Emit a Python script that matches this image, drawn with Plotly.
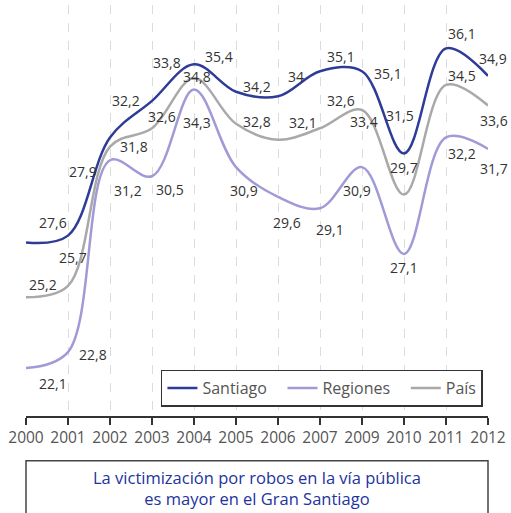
import plotly.graph_objects as go

years = ["2000", "2001", "2002", "2003", "2004", "2005", "2006", "2007", "2009", "2010", "2011", "2012"]
santiago = [27.6, 27.9, 32.2, 33.8, 35.4, 34.2, 34.0, 35.1, 35.1, 31.5, 36.1, 34.9]
regiones = [22.1, 22.8, 31.2, 30.5, 34.3, 30.9, 29.6, 29.1, 30.9, 27.1, 32.2, 31.7]
pais = [25.2, 25.7, 31.8, 32.6, 34.8, 32.8, 32.1, 32.6, 33.4, 29.7, 34.5, 33.6]

# label offsets (pixels, dx right, dy down) for each value label
off_santiago = [(27, -20), (15, -64), (16, -37), (15, -38), (25, -8), (21, -5), (18, -20), (21, -15), (26, 2), (-4, -38), (16, -15), (5, -17)]
off_pais = [(17, -13), (5, -28), (24, 0), (10, -12), (3, -2), (21, -2), (25, -17), (21, -28), (2, 11), (0, -27), (16, -9), (6, 15)]
off_regiones = [(27, 15), (25, 2), (18, 30), (18, 13), (3, 33), (8, 23), (9, 26), (10, 21), (-5, 23), (0, 14), (16, 16), (6, 20)]

C_SANT = "#2e3c98"
C_REG = "#a09bd6"
C_PAIS = "#a9a9a9"

xs = list(range(len(years)))
PAD = "\u2002\u2009"  # spacing after legend entries

fig = go.Figure()
fig.add_trace(go.Scatter(x=xs, y=santiago, name="Santiago" + PAD, mode="lines",
                         line=dict(color=C_SANT, width=2.5, shape="spline", smoothing=1.0), legendrank=1))
fig.add_trace(go.Scatter(x=xs, y=regiones, name="Regiones" + PAD, mode="lines",
                         line=dict(color=C_REG, width=2.5, shape="spline", smoothing=1.0), legendrank=2))
fig.add_trace(go.Scatter(x=xs, y=pais, name="País", mode="lines",
                         line=dict(color=C_PAIS, width=2.5, shape="spline", smoothing=1.0), legendrank=3))


def fmt(v):
    if abs(v - round(v)) < 1e-9:
        return str(int(round(v)))
    return f"{v:.1f}".replace(".", ",")


annotations = []
for vals, offs in ((santiago, off_santiago), (pais, off_pais), (regiones, off_regiones)):
    for i, (v, (dx, dy)) in enumerate(zip(vals, offs)):
        annotations.append(dict(x=i, y=v, xref="x", yref="y", text=fmt(v), showarrow=False,
                                xshift=dx, yshift=-dy, font=dict(size=14, color="#333333")))

annotations.append(dict(x=0.5, y=-0.174, xref="paper", yref="paper", showarrow=False,
                        text="La victimización por robos en la vía pública<br>es mayor en el Gran Santiago",
                        xanchor="center", yanchor="middle", align="center",
                        font=dict(size=16.5, color="#2233a0")))

fig.update_layout(
    width=511, height=513, autosize=False,
    margin=dict(l=26, r=19, t=5, b=97),
    paper_bgcolor="white", plot_bgcolor="white",
    font=dict(family="Open Sans", color="#555555"),
    showlegend=True,
    legend=dict(orientation="h", xanchor="right", x=0.989, yanchor="bottom", y=0.0226,
                bgcolor="white", bordercolor="#333333", borderwidth=1.5,
                font=dict(size=16, color="#555555"), itemwidth=30),
    annotations=annotations,
    shapes=[dict(type="rect", xref="paper", yref="paper", x0=0, x1=1, y0=-0.3, y1=-0.1088,
                 line=dict(color="#444444", width=1.5), fillcolor="rgba(0,0,0,0)")],
)
fig.update_xaxes(range=[0, 11], tickmode="array", tickvals=xs, ticktext=years,
                 showgrid=True, gridcolor="#dcdcdc", griddash="dash", gridwidth=1,
                 showline=True, linecolor="#333333", linewidth=1.5,
                 ticks="outside", ticklen=7, tickcolor="#333333", tickwidth=1.5,
                 tickfont=dict(size=15.5, color="#555555"), zeroline=False)
fig.update_yaxes(range=[20, 38], visible=False, showgrid=False, zeroline=False)

fig.write_html("out.html", config={"displayModeBar": False},
               post_script="document.body.style.margin='0px';document.body.style.overflow='hidden';")
